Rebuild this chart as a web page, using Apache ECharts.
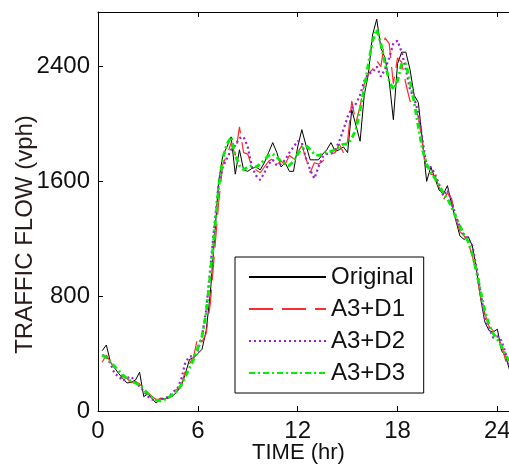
<!DOCTYPE html>
<html>
<head>
<meta charset="utf-8">
<script src="https://cdn.jsdelivr.net/npm/echarts@6/dist/echarts.min.js"></script>
<style>
  html, body { margin: 0; padding: 0; background: #fff; }
  #main { width: 509px; height: 466px; }
</style>
</head>
<body>
<div id="main"></div>
<script>
var hours = [0.25, 0.5, 0.75, 1, 1.25, 1.5, 1.75, 2, 2.25, 2.5, 2.75, 3, 3.25, 3.5, 3.75, 4, 4.25, 4.5, 4.75, 5,
    5.25, 5.5, 5.75, 6, 6.25, 6.5, 6.75, 7, 7.25, 7.5, 7.75, 8, 8.25, 8.5, 8.75, 9, 9.25, 9.5, 9.75, 10,
    10.25, 10.5, 10.75, 11, 11.25, 11.5, 11.75, 12, 12.25, 12.5, 12.75, 13, 13.25, 13.5, 13.75, 14, 14.25, 14.5, 14.75, 15,
    15.25, 15.5, 15.75, 16, 16.25, 16.5, 16.75, 17, 17.25, 17.5, 17.75, 18, 18.25, 18.5, 18.75, 19, 19.25, 19.5, 19.75, 20,
    20.25, 20.5, 20.75, 21, 21.25, 21.5, 21.75, 22, 22.25, 22.5, 22.75, 23, 23.25, 23.5, 23.75, 24, 24.25, 24.5, 24.75];

var original = [420, 460, 340, 300, 260, 225, 195, 200, 215, 270, 100, 120, 85, 55, 90, 85, 90, 105, 135, 170,
    260, 360, 370, 400, 430, 560, 820, 1200, 1600, 1780, 1840, 1910, 1650, 1820, 1680, 1670, 1690, 1700, 1680, 1730,
    1800, 1870, 1800, 1700, 1730, 1670, 1670, 1840, 1960, 1850, 1750, 1750, 1750, 1790, 1820, 1870, 1810, 1820, 1840, 1800,
    2100, 1990, 1880, 2200, 2350, 2620, 2730, 2530, 2460, 2300, 2030, 2420, 2500, 2500, 2380, 2200, 2150, 1880, 1600, 1700,
    1620, 1540, 1510, 1570, 1440, 1330, 1220, 1195, 1215, 1150, 980, 780, 620, 560, 550, 570, 420, 380, 280];

var a3d1 = [340, 390, 340, 300, 265, 240, 225, 200, 205, 190, 150, 130, 100, 80, 85, 80, 100, 140, 150, 180,
    280, 330, 380, 520, 480, 540, 750, 1100, 1450, 1720, 1780, 1870, 1780, 1980, 1800, 1790, 1700, 1680, 1660, 1700,
    1740, 1760, 1720, 1740, 1720, 1780, 1760, 1800, 1850, 1760, 1660, 1730, 1720, 1740, 1770, 1790, 1800, 1860, 1800, 1880,
    2160, 2010, 2120, 2280, 2350, 2380, 2440, 2400, 2600, 2560, 2280, 2460, 2430, 2280, 2160, 2140, 2050, 1860, 1680, 1650,
    1640, 1560, 1470, 1520, 1480, 1340, 1250, 1220, 1170, 1080, 950, 790, 680, 590, 560, 510, 460, 350, 300];

var a3d2 = [390, 380, 330, 260, 240, 210, 230, 240, 200, 170, 140, 100, 80, 70, 80, 90, 100, 130, 150, 220,
    340, 380, 380, 420, 520, 700, 1000, 1300, 1580, 1700, 1760, 1820, 1850, 1900, 1910, 1840, 1700, 1640, 1610, 1660,
    1720, 1750, 1710, 1720, 1750, 1800, 1840, 1880, 1870, 1760, 1680, 1620, 1700, 1770, 1790, 1800, 1820, 1880, 1960, 2050,
    2110, 2140, 2200, 2300, 2350, 2360, 2400, 2330, 2380, 2460, 2560, 2580, 2500, 2380, 2240, 2180, 2080, 1890, 1700, 1700,
    1650, 1580, 1500, 1540, 1460, 1360, 1280, 1220, 1200, 1150, 1000, 820, 640, 580, 510, 520, 490, 400, 300];

var a3d3 = [390, 370, 340, 310, 280, 250, 225, 205, 195, 180, 150, 120, 95, 75, 70, 80, 95, 115, 140, 180,
    240, 300, 360, 440, 520, 680, 950, 1250, 1560, 1760, 1860, 1910, 1780, 1710, 1680, 1700, 1710, 1700, 1720, 1750,
    1780, 1790, 1770, 1740, 1720, 1710, 1740, 1790, 1830, 1850, 1820, 1790, 1780, 1790, 1800, 1810, 1820, 1840, 1860, 1860,
    1900, 1960, 2100, 2250, 2420, 2580, 2660, 2560, 2420, 2300, 2240, 2300, 2420, 2420, 2300, 2150, 1980, 1820, 1720, 1660,
    1620, 1570, 1520, 1480, 1420, 1350, 1290, 1230, 1180, 1090, 970, 830, 700, 600, 540, 500, 450, 390, 340];

var seriesNames = ['Original', 'A3+D1', 'A3+D2', 'A3+D3'];
var seriesValues = [original, a3d1, a3d2, a3d3];
var seriesStyles = [
    { color: '#000000', width: 1, type: 'solid' },
    { color: '#ff2a2a', width: 1.2, type: [24, 9] },
    { color: '#9b1fd0', width: 2.2, type: [2, 3] },
    { color: '#00f000', width: 2.8, type: [6, 3, 2, 3] }
];

var font = 'Liberation Sans, Arial, sans-serif';

var chart = echarts.init(document.getElementById('main'));

function pairs(vals) {
    return hours.map(function (t, i) { return [t, vals[i]]; });
}

function plain(v) { return String(v); }

var option = {
    animation: false,
    backgroundColor: '#fff',
    grid: { left: 98, top: 12, width: 416, height: 399, outerBoundsMode: 'none', containLabel: false },
    legend: {
        orient: 'vertical',
        left: 235,
        top: 257,
        padding: [8, 10, 8, 13],
        itemWidth: 77,
        itemHeight: 14,
        itemGap: 8,
        borderColor: '#000',
        borderWidth: 1,
        backgroundColor: '#fff',
        itemStyle: { opacity: 0 },
        textStyle: { fontFamily: font, fontSize: 24, color: '#111' },
        data: seriesNames
    },
    xAxis: [{
        type: 'value',
        min: 0,
        max: 25,
        interval: 6,
        name: 'TIME (hr)',
        nameLocation: 'middle',
        nameGap: 31,
        nameMoveOverlap: false,
        nameTextStyle: { fontFamily: font, fontSize: 22, color: '#111', padding: [0, 15, 0, 0] },
        axisLine: { onZero: false, lineStyle: { color: '#000', width: 1 } },
        axisTick: { inside: true, length: 5, lineStyle: { color: '#000' } },
        axisLabel: { fontFamily: font, fontSize: 24, color: '#111', margin: 8, showMaxLabel: false, formatter: plain },
        splitLine: { show: false }
    }, {
        type: 'value',
        position: 'top',
        min: 0,
        max: 25,
        interval: 6,
        axisLine: { onZero: false, lineStyle: { color: '#000', width: 1 } },
        axisTick: { inside: true, length: 5, lineStyle: { color: '#000' } },
        axisLabel: { show: false },
        splitLine: { show: false }
    }],
    yAxis: [{
        type: 'value',
        min: 0,
        max: 2780,
        interval: 800,
        name: 'TRAFFIC FLOW (vph)',
        nameLocation: 'middle',
        nameGap: 61,
        nameMoveOverlap: false,
        nameTextStyle: { fontFamily: font, fontSize: 24, color: '#2a1a1a', padding: [0, 46, 0, 0] },
        axisLine: { show: true, onZero: false, lineStyle: { color: '#000', width: 1 } },
        axisTick: { show: true, inside: true, length: 5, lineStyle: { color: '#000' } },
        axisLabel: { fontFamily: font, fontSize: 24, color: '#111', margin: 8, showMaxLabel: false, formatter: plain },
        splitLine: { show: false }
    }, {
        type: 'value',
        position: 'right',
        min: 0,
        max: 2780,
        interval: 800,
        axisLine: { show: true, onZero: false, lineStyle: { color: '#000', width: 1 } },
        axisTick: { show: true, inside: true, length: 5, lineStyle: { color: '#000' } },
        axisLabel: { show: false },
        splitLine: { show: false }
    }],
    series: seriesNames.map(function (name, k) {
        var st = seriesStyles[k];
        return {
            name: name,
            type: 'line',
            data: pairs(seriesValues[k]),
            symbol: 'none',
            showSymbol: false,
            color: st.color,
            lineStyle: { color: st.color, width: st.width, type: st.type },
            z: 2 + k
        };
    })
};

chart.setOption(option);
</script>
</body>
</html>
